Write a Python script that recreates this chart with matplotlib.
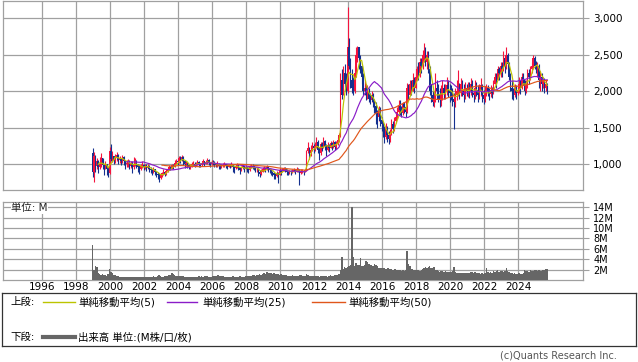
import numpy as np
import pandas as pd
import matplotlib
matplotlib.use("Agg")
import matplotlib.pyplot as plt
from matplotlib.ticker import FuncFormatter

plt.rcParams['font.family'] = ['DejaVu Sans', 'Noto Sans CJK JP']

#Monthly candles, Dec 1998 .. Sep 2025 (one row per year)
first_open = 1150
close = [900,
    1120, 980, 1040, 960, 1010, 1080, 990, 950, 1000, 930, 880, 1180,
    1070, 1110, 1060, 1090, 1130, 1060, 1080, 1040, 1100, 1050, 1000, 1020,
    1040, 980, 1010, 960, 1000, 1050, 990, 960, 930, 970, 990, 960,
    980, 950, 970, 940, 920, 900, 930, 900, 870, 860, 820, 850,
    880, 900, 870, 910, 940, 960, 950, 990, 970, 1020, 1050, 1030,
    1080, 1060, 1100, 1050, 1000, 1020, 990, 960, 970, 1000, 1010, 990,
    1010, 1030, 1000, 990, 1020, 1040, 1010, 1030, 1060, 1020, 1000, 1030,
    1020, 1000, 990, 1010, 980, 960, 980, 990, 1000, 980, 970, 990,
    980, 1000, 960, 950, 970, 990, 960, 920, 950, 970, 940, 960,
    940, 920, 960, 980, 970, 950, 930, 940, 900, 870, 900, 940,
    950, 930, 960, 940, 920, 900, 880, 860, 840, 880, 860, 920,
    900, 920, 940, 930, 900, 880, 900, 890, 910, 920, 900, 930,
    920, 880, 900, 910, 890, 920, 1180, 1220, 1150, 1200, 1250, 1220,
    1250, 1300, 1200, 1150, 1280, 1230, 1320, 1250, 1200, 1260, 1230, 1290,
    1260, 1300, 1240, 1280, 1330, 1400, 2150, 1950, 2250, 2100, 2000, 2600,
    2350, 2150, 2050, 2000, 2250, 2500, 2600, 2450, 2350, 2200, 2000, 2050,
    1950, 2000, 1900, 1880, 1950, 1850, 1800, 1700, 1650, 1750, 1600, 1550,
    1450, 1380, 1500, 1400, 1350, 1420, 1550, 1480, 1600, 1650, 1720, 1800,
    1750, 1700, 1820, 1780, 1720, 2050, 1950, 2100, 2000, 2150, 2050, 2200,
    2300, 2250, 2400, 2350, 2500, 2550, 2400, 2500, 2300, 2000, 1950, 1850,
    1900, 2050, 2000, 1950, 1880, 1950, 2050, 1980, 2000, 2080, 2020, 1980,
    1950, 1900, 1850, 1950, 2000, 2050, 1980, 2100, 2000, 1950, 2050, 2000,
    2050, 2000, 2100, 1980, 1950, 2050, 2020, 1950, 2000, 2080, 1950, 1900,
    1980, 2050, 2000, 1960, 2020, 1980, 2100, 2200, 2150, 2300, 2250, 2350,
    2300, 2450, 2350, 2500, 2380, 2200, 2050, 2000, 1950, 2050, 1980, 2020,
    2100, 2050, 2200, 2150, 2000, 2100, 2250, 2200, 2300, 2350, 2450, 2350,
    2300, 2350, 2150, 2200, 2100, 2150, 2050, 2100, 2000]
high = [1220,
    1175, 1130, 1090, 1060, 1100, 1150, 1090, 1010, 1050, 1000, 960, 1240,
    1280, 1180, 1120, 1140, 1170, 1140, 1110, 1090, 1130, 1110, 1060, 1060,
    1080, 1060, 1040, 1040, 1100, 1090, 1060, 1000, 990, 1010, 1040, 1000,
    1000, 1000, 1000, 990, 960, 940, 960, 940, 910, 890, 880, 880,
    900, 930, 910, 930, 960, 990, 980, 1010, 1000, 1060, 1080, 1070,
    1110, 1120, 1130, 1120, 1060, 1050, 1030, 1000, 1000, 1030, 1040, 1030,
    1030, 1060, 1040, 1020, 1050, 1070, 1050, 1060, 1090, 1070, 1030, 1060,
    1060, 1040, 1020, 1040, 1020, 1000, 1000, 1020, 1030, 1010, 1000, 1010,
    1010, 1030, 1010, 980, 1000, 1020, 1000, 970, 980, 1000, 980, 990,
    970, 960, 990, 1010, 1000, 980, 960, 970, 950, 920, 930, 970,
    980, 970, 990, 980, 950, 930, 910, 900, 880, 910, 900, 950,
    930, 950, 970, 960, 940, 910, 920, 920, 940, 950, 930, 960,
    950, 930, 930, 940, 920, 940, 1200, 1300, 1240, 1260, 1300, 1280,
    1300, 1370, 1330, 1240, 1310, 1300, 1370, 1340, 1280, 1300, 1280, 1320,
    1310, 1340, 1320, 1320, 1380, 1430, 2250, 2300, 2350, 2380, 2250, 3160,
    2730, 2450, 2300, 2200, 2350, 2600, 2620, 2600, 2500, 2350, 2250, 2150,
    2100, 2080, 2050, 1980, 2000, 1980, 1900, 1850, 1750, 1800, 1780, 1650,
    1580, 1520, 1560, 1530, 1450, 1480, 1620, 1600, 1650, 1720, 1780, 1880,
    1880, 1800, 1860, 1850, 1800, 2110, 2100, 2150, 2150, 2250, 2200, 2300,
    2350, 2400, 2450, 2450, 2560, 2660, 2600, 2550, 2550, 2350, 2100, 2000,
    2000, 2250, 2150, 2100, 2050, 2080, 2150, 2100, 2100, 2200, 2150, 2100,
    2080, 2050, 1980, 2050, 2150, 2290, 2120, 2180, 2150, 2100, 2130, 2100,
    2130, 2130, 2180, 2150, 2050, 2150, 2130, 2080, 2100, 2180, 2100, 2020,
    2070, 2100, 2080, 2050, 2080, 2060, 2150, 2250, 2250, 2350, 2330, 2400,
    2400, 2550, 2500, 2600, 2520, 2400, 2250, 2150, 2050, 2100, 2080, 2080,
    2200, 2150, 2250, 2250, 2150, 2150, 2300, 2300, 2350, 2400, 2500, 2480,
    2420, 2400, 2380, 2280, 2250, 2200, 2180, 2150, 2120]
low = [830,
    760, 900, 930, 880, 940, 970, 930, 850, 930, 850, 830, 870,
    1040, 1030, 1010, 1020, 1050, 1010, 1020, 990, 1020, 990, 940, 960,
    960, 940, 950, 880, 940, 980, 950, 900, 870, 920, 950, 920,
    930, 910, 930, 900, 880, 860, 880, 860, 830, 800, 760, 800,
    830, 860, 840, 860, 900, 920, 920, 940, 940, 960, 1000, 990,
    1020, 1020, 1040, 990, 950, 980, 950, 930, 940, 960, 980, 960,
    980, 990, 970, 960, 980, 1000, 980, 1000, 1010, 990, 970, 990,
    990, 970, 960, 970, 940, 930, 950, 960, 970, 950, 940, 960,
    950, 960, 900, 880, 940, 950, 920, 870, 910, 940, 900, 930,
    900, 880, 910, 950, 930, 920, 900, 900, 840, 830, 860, 900,
    910, 900, 920, 900, 880, 860, 840, 800, 800, 830, 745, 860,
    860, 890, 910, 890, 860, 850, 870, 860, 880, 890, 870, 900,
    890, 720, 870, 880, 860, 890, 910, 1150, 1080, 1120, 1180, 1160,
    1180, 1230, 1150, 1060, 1130, 1180, 1220, 1190, 1110, 1180, 1170, 1220,
    1200, 1230, 1200, 1210, 1260, 1300, 1380, 1900, 1950, 2000, 1950, 1980,
    2300, 2050, 1980, 1950, 1980, 2200, 2400, 2300, 2250, 2100, 1950, 1950,
    1880, 1900, 1850, 1820, 1850, 1780, 1700, 1550, 1500, 1600, 1530, 1450,
    1380, 1290, 1350, 1300, 1280, 1300, 1400, 1430, 1450, 1560, 1620, 1690,
    1680, 1650, 1680, 1700, 1650, 1700, 1900, 1950, 1950, 2000, 1980, 2050,
    2150, 2150, 2200, 2250, 2300, 2400, 2350, 2300, 2250, 1950, 1850, 1800,
    1780, 1850, 1900, 1850, 1780, 1800, 1880, 1900, 1900, 1950, 1920, 1860,
    1880, 1800, 1490, 1780, 1880, 1930, 1900, 1940, 1930, 1860, 1900, 1930,
    1920, 1910, 1950, 1920, 1850, 1900, 1940, 1860, 1890, 1930, 1860, 1830,
    1860, 1930, 1930, 1880, 1920, 1910, 1960, 2100, 2050, 2150, 2150, 2200,
    2200, 2280, 2250, 2300, 2300, 2150, 2000, 1900, 1880, 1920, 1900, 1950,
    1980, 1970, 2030, 2080, 1950, 1980, 2050, 2100, 2150, 2250, 2300, 2300,
    2250, 2200, 2050, 2000, 2000, 2050, 1980, 2000, 1970]
volume = [6.7,
    1.9, 2.7, 2.5, 1.4, 1.2, 1.0, 1.1, 0.9, 1.0, 0.8, 1.2, 2.1,
    1.6, 1.3, 1.0, 0.9, 0.8, 0.7, 0.6, 0.6, 0.6, 0.5, 0.5, 0.5,
    0.5, 0.6, 0.6, 0.5, 0.5, 0.6, 0.5, 0.5, 0.5, 0.5, 0.6, 0.5,
    0.5, 0.5, 0.6, 0.6, 0.5, 0.6, 0.7, 0.6, 0.6, 0.7, 0.9, 0.7,
    0.6, 0.6, 0.7, 0.8, 0.7, 1.0, 0.9, 1.3, 1.1, 0.9, 0.8, 0.7,
    0.8, 0.7, 0.8, 0.7, 0.6, 0.6, 0.6, 0.6, 0.6, 0.6, 0.5, 0.5,
    0.6, 0.6, 0.7, 0.6, 0.7, 0.6, 0.7, 0.8, 0.7, 0.6, 0.6, 0.6,
    0.7, 0.8, 0.8, 0.9, 0.9, 0.8, 0.7, 0.7, 0.6, 0.6, 0.6, 0.6,
    0.6, 0.6, 0.7, 0.6, 0.5, 0.6, 0.6, 0.7, 0.6, 0.6, 0.6, 0.7,
    0.8, 0.8, 0.8, 0.8, 0.9, 0.9, 0.8, 0.9, 1.0, 1.1, 1.0, 1.1,
    1.3, 1.2, 1.6, 1.4, 1.3, 1.3, 1.1, 1.3, 1.2, 1.2, 1.1, 1.0,
    1.1, 1.0, 1.0, 0.9, 0.9, 0.8, 0.8, 0.8, 0.9, 0.8, 0.8, 0.7,
    0.8, 1.0, 0.9, 0.8, 0.8, 0.7, 1.1, 0.9, 0.8, 0.7, 0.7, 0.8,
    0.7, 0.7, 0.8, 0.6, 0.7, 0.7, 0.8, 0.7, 0.7, 0.6, 0.7, 0.9,
    0.8, 0.8, 0.9, 0.9, 1.0, 1.2, 2.0, 4.5, 2.2, 2.5, 2.3, 2.5,
    2.6, 2.8, 14.1, 4.5, 2.7, 3.2, 2.8, 2.9, 4.2, 2.7, 2.6, 2.8,
    3.6, 3.4, 3.0, 2.9, 2.8, 2.7, 3.0, 2.9, 2.6, 2.4, 2.3, 2.4,
    2.4, 2.3, 2.2, 2.3, 2.4, 2.2, 2.2, 2.0, 2.1, 2.2, 1.9, 2.0,
    1.9, 1.8, 2.0, 1.8, 1.9, 5.6, 3.0, 2.6, 2.2, 2.1, 2.0, 1.9,
    2.0, 1.9, 1.8, 1.9, 2.1, 2.3, 2.5, 2.4, 2.5, 2.6, 2.4, 2.3,
    2.5, 2.0, 1.9, 1.7, 1.6, 1.8, 1.7, 1.6, 1.7, 1.5, 1.6, 1.5,
    1.5, 1.7, 2.5, 1.5, 1.3, 1.4, 1.4, 1.3, 1.4, 1.3, 1.3, 1.4,
    1.3, 1.4, 1.6, 1.5, 1.4, 1.5, 1.3, 1.3, 1.4, 1.2, 1.3, 1.2,
    1.4, 2.3, 1.5, 1.4, 1.6, 1.4, 1.8, 1.6, 1.7, 1.9, 1.6, 1.7,
    1.8, 1.6, 1.7, 2.3, 1.8, 1.5, 1.4, 1.3, 1.2, 1.3, 1.2, 1.2,
    1.3, 1.2, 1.1, 1.4, 1.9, 1.7, 1.8, 1.6, 1.9, 1.7, 1.8, 2.0,
    1.9, 1.8, 2.0, 1.7, 1.8, 1.9, 2.0, 2.1, 2.1]

year_ticks = list(range(1996, 2026, 2))
price_ticks = [1000, 1500, 2000, 2500, 3000]
vol_ticks = [2, 4, 6, 8, 10, 12, 14]

UP = '#f5133d'
DOWN = '#14308f'
GRID = '#a0a0a0'
MA_COLORS = {5: '#bcc400', 25: '#8a1cc8', 50: '#e0561b'}

dates = pd.date_range('1998-12-01', periods=len(close), freq='MS')
t = np.asarray(dates.year + (dates.month - 0.5) / 12.0)
c = np.array(close, dtype=float)
o = np.r_[first_open, c[:-1]]
h = np.array(high, dtype=float)
l = np.array(low, dtype=float)
up = c >= o

fig = plt.figure(figsize=(6.38, 3.62), dpi=100)
W, H = 638.0, 362.0

def box(x0, y0, x1, y1):
    return [x0 / W, 1 - y1 / H, (x1 - x0) / W, (y1 - y0) / H]

ax = fig.add_axes(box(3.3, 0.5, 582.7, 190.3))
vax = fig.add_axes(box(3.3, 202, 582.7, 280))

for a in (ax, vax):
    a.set_xlim(1993.706, 2027.79)
    a.set_xticks(year_ticks)
    a.grid(True, color=GRID, lw=0.9)
    a.set_axisbelow(True)
    for s in a.spines.values():
        s.set_color(GRID)
        s.set_linewidth(0.9)
    a.yaxis.tick_right()
    a.tick_params(axis='y', which='both', direction='out', length=4, color=GRID,
                  labelsize=7.5, pad=3.5, left=False)
    a.tick_params(axis='x', length=0, labelsize=7.5, pad=1.5)

#price panel
ax.set_ylim(645, 3243)
ax.set_yticks(price_ticks)
ax.yaxis.set_major_formatter(FuncFormatter(lambda v, p: f"{int(v):,}"))
ax.tick_params(axis='x', labelbottom=False)

colors = np.where(up, UP, DOWN)
ax.vlines(t, l, h, colors=colors, lw=0.8, zorder=3)
ax.bar(t, np.abs(c - o) + 1, bottom=np.minimum(c, o), width=0.09,
       color=colors, lw=0, zorder=3)

s = pd.Series(c)
for n, col in MA_COLORS.items():
    ax.plot(t, s.rolling(n).mean(), color=col, lw=0.85, zorder=4)

#volume panel
vax.set_ylim(0, 15.0)
vax.set_yticks(vol_ticks)
vax.set_yticklabels([f"{v}M" for v in vol_ticks])
vax.tick_params(axis='y', labelsize=7, pad=3.5)
vax.bar(t, volume, width=1 / 12.0, color='#666666', lw=0, zorder=3)
vax.text(0.014, 0.92, "単位: M", transform=vax.transAxes, fontsize=7.5,
         ha='left', va='center', color='#222222',
         bbox=dict(facecolor='white', edgecolor='none', pad=0.3), zorder=5)

#legend box
lax = fig.add_axes(box(2, 293, 636, 346))
lax.set_xlim(0, 634)
lax.set_ylim(53, 0)
lax.set_xticks([])
lax.set_yticks([])
for sp in lax.spines.values():
    sp.set_color('#333333')
    sp.set_linewidth(0.9)

fs = 7.5
r1, r2 = 9, 44
lax.text(8, r1, "上段:", fontsize=fs, va='center')
lax.plot([41, 73], [r1, r1], color=MA_COLORS[5], lw=1)
lax.text(76, r1, "単純移動平均(5)", fontsize=fs, va='center')
lax.plot([165, 195], [r1, r1], color=MA_COLORS[25], lw=1)
lax.text(200, r1, "単純移動平均(25)", fontsize=fs, va='center')
lax.plot([310, 343], [r1, r1], color=MA_COLORS[50], lw=1)
lax.text(346, r1, "単純移動平均(50)", fontsize=fs, va='center')
lax.text(8, r2, "下段:", fontsize=fs, va='center')
lax.plot([41, 73], [r2, r2], color='#666666', lw=3)
lax.text(76, r2, "出来高 単位:(M株/口/枚)", fontsize=fs, va='center')

fig.text(617 / W, 1 - 356 / H, "(c)Quants Research Inc.", ha='right', va='center',
         fontsize=7, color='#555555')

fig.savefig("out.png", dpi=100)
